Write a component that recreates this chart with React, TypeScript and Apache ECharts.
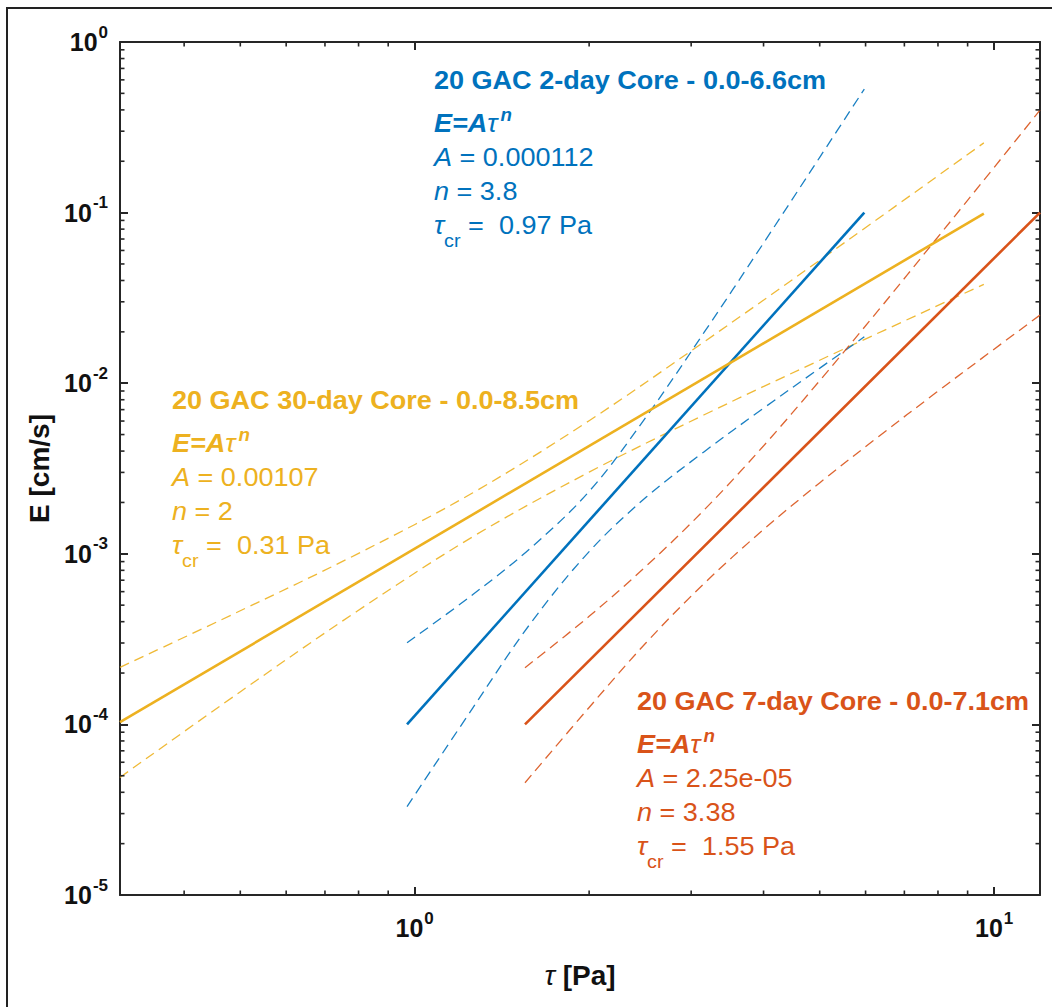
import React, { useEffect, useRef } from "react";
import * as echarts from "echarts";

// Axis extents (log-log)
const tauRange = [0.31, 12];
const erosionRange = [1e-5, 1];

// 2-day core: fitted line and confidence bounds ([tau Pa, E cm/s])
const twoDayFit = [[0.97, 1.0e-4], [5.97, 0.1]];
const twoDayUpper = [
  [0.97, 3.01e-4], [1.26, 5.77e-4], [1.58, 1.07e-3], [2.0, 2.32e-3], [2.51, 6.37e-3],
  [3.16, 0.0199], [3.98, 0.0646], [5.01, 0.213], [5.97, 0.53],
];
const twoDayLower = [
  [0.97, 3.3e-5], [1.26, 1.25e-4], [1.58, 3.86e-4], [2.0, 1.03e-3], [2.51, 2.15e-3],
  [3.16, 3.97e-3], [3.98, 7.05e-3], [5.01, 0.0123], [5.97, 0.0187],
];

// 7-day core
const sevenDayFit = [[1.55, 1.0e-4], [12, 0.1]];
const sevenDayUpper = [
  [1.55, 2.15e-4], [2.0, 4.3e-4], [2.51, 8.48e-4], [3.16, 1.81e-3], [3.98, 4.21e-3],
  [5.01, 0.01043], [6.31, 0.0267], [7.94, 0.0698], [10, 0.184], [12, 0.3986],
];
const sevenDayLower = [
  [1.55, 4.55e-5], [2.0, 1.257e-4], [2.51, 3.02e-4], [3.16, 6.71e-4], [3.98, 1.368e-3],
  [5.01, 2.62e-3], [6.31, 4.85e-3], [7.94, 8.81e-3], [10, 0.01583], [12, 0.02507],
];

// 30-day core
const thirtyDayFit = [[0.31, 1.03e-4], [9.6, 0.0986]];
const thirtyDayUpper = [
  [0.31, 2.16e-4], [0.501, 4.65e-4], [0.794, 9.93e-4], [1.26, 2.28e-3], [2.0, 6.03e-3],
  [3.16, 0.0175], [5.01, 0.0528], [9.6, 0.2563],
];
const thirtyDayLower = [
  [0.31, 4.89e-5], [0.501, 1.56e-4], [0.794, 4.59e-4], [1.26, 1.26e-3], [2.0, 3.01e-3],
  [3.16, 6.53e-3], [5.01, 0.01368], [9.6, 0.03797],
];

// Fit summaries shown as annotations
const coreNames = [
  "20 GAC 2-day Core - 0.0-6.6cm",
  "20 GAC 30-day Core - 0.0-8.5cm",
  "20 GAC 7-day Core - 0.0-7.1cm",
];
const coefA = ["0.000112", "0.00107", "2.25e-05"];
const exponentN = ["3.8", "2", "3.38"];
const tauCritical = ["0.97", "0.31", "1.55"];

// Minor tick values within each decade
const xMinorTicks = [0.4, 0.5, 0.6, 0.7, 0.8, 0.9, 2, 3, 4, 5, 6, 7, 8, 9];
const yDecades = [1e-5, 1e-4, 1e-3, 1e-2, 1e-1];
const minorMultipliers = [2, 3, 4, 5, 6, 7, 8, 9];

const BLUE = "#0072BD";
const RED = "#D95319";
const YELLOW = "#EDB120";
const AXIS = "#262626";
const FONT = "'Liberation Sans', Arial, Helvetica, sans-serif";

const W = 1052;
const H = 1007;
const GRID = { left: 120, top: 42, right: 12, bottom: 112 };

function powLabel(v: number) {
  const e = Math.log10(v);
  const r = Math.round(e);
  if (Math.abs(e - r) > 1e-6) return "";
  return `{b|10}{s|${r}}`;
}

const tickRich = {
  b: { fontSize: 25, fontWeight: "bold", fontFamily: FONT, color: "#111", lineHeight: 30 },
  s: {
    fontSize: 17,
    fontWeight: "bold",
    fontFamily: FONT,
    color: "#111",
    lineHeight: 30,
    padding: [0, 0, 20, 1],
  },
};

function lineSeries(data: number[][], color: string, solid: boolean) {
  return {
    type: "line",
    data,
    showSymbol: false,
    symbol: "none",
    silent: true,
    smooth: solid ? false : 0.35,
    z: solid ? 4 : 3,
    lineStyle: solid
      ? { color, width: 2.6, type: "solid" }
      : { color, width: 1.3, type: [10, 6], opacity: 0.9 },
  };
}

function annotation(x: number, y: number, idx: number, color: string) {
  const base = { fontFamily: FONT, fill: color, lineHeight: 32 };
  const rows = [
    {
      y,
      text: `{t|${coreNames[idx]}}`,
      rich: { t: { ...base, fontSize: 26, fontWeight: "bold" } },
    },
    {
      y: y + 43,
      text: "{e|E=A}{g|\u03c4}{s|n}",
      rich: {
        e: { ...base, fontSize: 26, fontWeight: "bold", fontStyle: "italic" },
        g: { ...base, fontSize: 26, fontStyle: "italic" },
        s: { ...base, fontSize: 18, fontWeight: "bold", fontStyle: "italic", padding: [0, 0, 16, 3] },
      },
    },
    {
      y: y + 77,
      text: `{i|A}{r| = ${coefA[idx]}}`,
      rich: {
        i: { ...base, fontSize: 26, fontStyle: "italic" },
        r: { ...base, fontSize: 26 },
      },
    },
    {
      y: y + 111,
      text: `{i|n}{r| = ${exponentN[idx]}}`,
      rich: {
        i: { ...base, fontSize: 26, fontStyle: "italic" },
        r: { ...base, fontSize: 26 },
      },
    },
    {
      y: y + 145,
      text: `{g|\u03c4}{c|cr}{r| =  ${tauCritical[idx]} Pa}`,
      rich: {
        g: { ...base, fontSize: 26, fontStyle: "italic" },
        c: { ...base, fontSize: 19, padding: [30, 0, 0, 0] },
        r: { ...base, fontSize: 26 },
      },
    },
  ];
  return rows.map((r) => ({
    type: "text",
    x,
    y: r.y,
    scaleX: 1.04,
    silent: true,
    z: 10,
    style: {
      text: r.text,
      rich: r.rich,
      fill: color,
      align: "left",
      verticalAlign: "middle",
    },
  }));
}

export default function App() {
  const ref = useRef<HTMLDivElement>(null);

  useEffect(() => {
    if (!ref.current) return;
    const chart = echarts.init(ref.current, null, { renderer: "svg" });

    const yMinorTicks: number[] = [];
    yDecades.forEach((d) => minorMultipliers.forEach((m) => yMinorTicks.push(m * d)));

    const axisLine = { show: true, onZero: false, lineStyle: { color: AXIS, width: 2 } };
    const majorTick = { show: true, inside: true, length: 8, lineStyle: { color: AXIS, width: 2 } };

    const option = {
      animation: false,
      backgroundColor: "#ffffff",
      grid: { ...GRID, containLabel: false },
      xAxis: [
        {
          type: "log",
          logBase: 10,
          min: tauRange[0],
          max: tauRange[1],
          position: "bottom",
          axisLine,
          axisTick: majorTick,
          splitLine: { show: false },
          axisLabel: {
            formatter: powLabel,
            margin: 18,
            interval: 0,
            fontSize: 25,
            fontWeight: "bold",
            showMinLabel: true,
            showMaxLabel: true,
            rich: tickRich,
          },
          name: "{g|\u03c4}{b| [Pa]}",
          nameLocation: "middle",
          nameGap: 64,
          nameTextStyle: {
            rich: {
              g: { fontSize: 28, fontStyle: "italic", fontFamily: FONT, color: "#111", lineHeight: 32 },
              b: { fontSize: 28, fontWeight: "bold", fontFamily: FONT, color: "#111", lineHeight: 32 },
            },
          },
        },
        {
          type: "log",
          logBase: 10,
          min: tauRange[0],
          max: tauRange[1],
          position: "top",
          axisLine,
          axisTick: majorTick,
          axisLabel: { show: false },
          splitLine: { show: false },
        },
      ],
      yAxis: [
        {
          type: "log",
          logBase: 10,
          min: erosionRange[0],
          max: erosionRange[1],
          position: "left",
          axisLine,
          axisTick: majorTick,
          splitLine: { show: false },
          axisLabel: {
            formatter: powLabel,
            margin: 12,
            interval: 0,
            fontSize: 25,
            fontWeight: "bold",
            rich: tickRich,
          },
          name: "E [cm/s]",
          nameLocation: "middle",
          nameGap: 66,
          nameTextStyle: {
            fontSize: 28,
            fontWeight: "bold",
            fontFamily: FONT,
            color: "#111",
          },
        },
        {
          type: "log",
          logBase: 10,
          min: erosionRange[0],
          max: erosionRange[1],
          position: "right",
          axisLine,
          axisTick: majorTick,
          axisLabel: { show: false },
          splitLine: { show: false },
        },
      ],
      series: [
        lineSeries(thirtyDayUpper, YELLOW, false),
        lineSeries(thirtyDayLower, YELLOW, false),
        lineSeries(twoDayUpper, BLUE, false),
        lineSeries(twoDayLower, BLUE, false),
        lineSeries(sevenDayUpper, RED, false),
        lineSeries(sevenDayLower, RED, false),
        lineSeries(twoDayFit, BLUE, true),
        lineSeries(sevenDayFit, RED, true),
        lineSeries(thirtyDayFit, YELLOW, true),
        {
          type: "custom",
          silent: true,
          clip: false,
          z: 6,
          data: xMinorTicks.map((v) => [v, 1]),
          renderItem: (params: any, api: any) => {
            const cs = params.coordSys;
            const px = api.coord([api.value(0), 1])[0];
            const bottom = cs.y + cs.height;
            const st = { stroke: AXIS, lineWidth: 1.6 };
            return {
              type: "group",
              children: [
                { type: "line", shape: { x1: px, y1: bottom, x2: px, y2: bottom - 4.5 }, style: st },
                { type: "line", shape: { x1: px, y1: cs.y, x2: px, y2: cs.y + 4.5 }, style: st },
              ],
            };
          },
        },
        {
          type: "custom",
          silent: true,
          clip: false,
          z: 6,
          data: yMinorTicks.map((v) => [1, v]),
          renderItem: (params: any, api: any) => {
            const cs = params.coordSys;
            const py = api.coord([1, api.value(1)])[1];
            const right = cs.x + cs.width;
            const st = { stroke: AXIS, lineWidth: 1.6 };
            return {
              type: "group",
              children: [
                { type: "line", shape: { x1: cs.x, y1: py, x2: cs.x + 4.5, y2: py }, style: st },
                { type: "line", shape: { x1: right, y1: py, x2: right - 4.5, y2: py }, style: st },
              ],
            };
          },
        },
      ],
      graphic: [
        { type: "line", silent: true, shape: { x1: 6, y1: 8, x2: W, y2: 8 }, style: { stroke: "#222", lineWidth: 2 } },
        { type: "line", silent: true, shape: { x1: 7, y1: 8, x2: 7, y2: H }, style: { stroke: "#222", lineWidth: 2 } },
        ...annotation(434, 80, 0, BLUE),
        ...annotation(172, 400, 1, YELLOW),
        ...annotation(637, 701, 2, RED),
      ],
    };

    chart.setOption(option as any);
    return () => chart.dispose();
  }, []);

  return (
    <div
      ref={ref}
      style={{ position: "fixed", left: 0, top: 0, width: W, height: H, background: "#fff" }}
    />
  );
}
